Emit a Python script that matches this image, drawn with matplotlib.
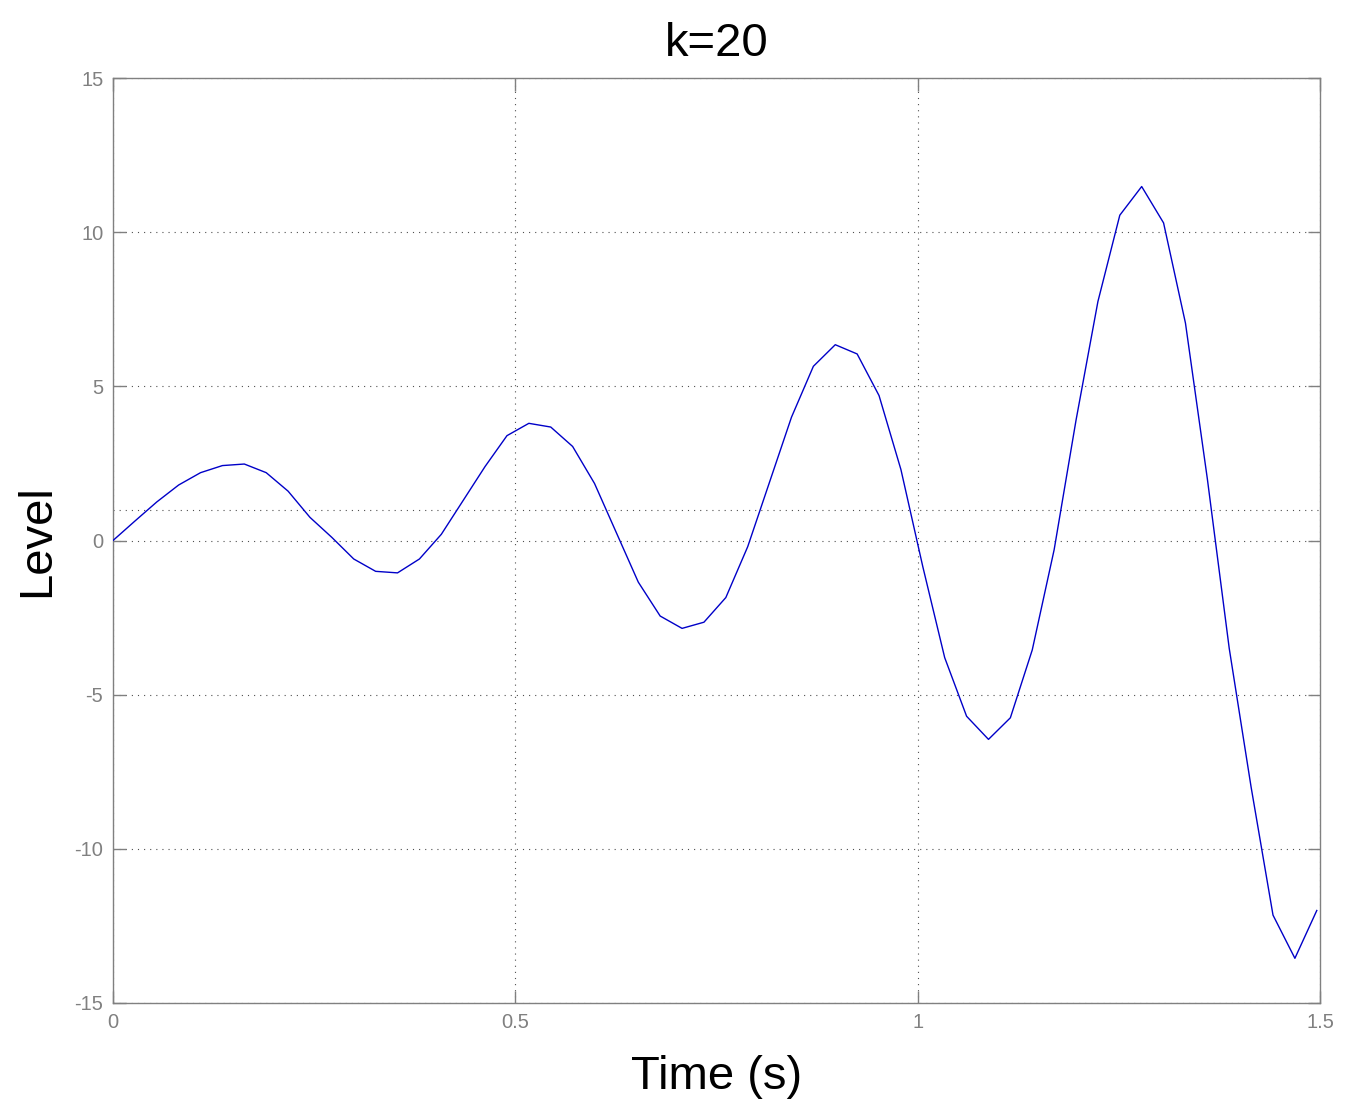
import numpy as np
import matplotlib
matplotlib.use("Agg")
import matplotlib.pyplot as plt

dt = 0.0272
level = [
    0.0, 0.63, 1.25, 1.8, 2.2, 2.43, 2.48, 2.2, 1.6, 0.75,
    0.1, -0.6, -1.0, -1.05, -0.6, 0.2, 1.3, 2.4, 3.4, 3.8,
    3.68, 3.05, 1.85, 0.25, -1.35, -2.45, -2.85, -2.65, -1.85, -0.2,
    1.9, 4.0, 5.65, 6.35, 6.05, 4.7, 2.3, -0.85, -3.8, -5.7,
    -6.45, -5.75, -3.55, -0.3, 3.9, 7.75, 10.55, 11.48, 10.3, 7.05,
    2.0, -3.5, -8.0, -12.15, -13.55, -12.0,
]
time = np.arange(len(level)) * dt
ref_level = 1.0

x_ticks = [0, 0.5, 1, 1.5]
x_ticklabels = ["0", "0.5", "1", "1.5"]
y_ticks = [-15, -10, -5, 0, 5, 10, 15]

plt.rcParams["font.family"] = ["Liberation Sans", "DejaVu Sans"]
plt.rcParams["axes.unicode_minus"] = False

fig = plt.figure(figsize=(13.45, 11.03), dpi=100)
fig.patch.set_facecolor("white")
ax = fig.add_axes([113 / 1345, 100 / 1103, 1207 / 1345, 925 / 1103])

gray = "#808080"
grid_kw = dict(color="#505050", linewidth=0.8, linestyle=(0, (1, 4.5)))

ax.plot(time, level, color="#0000c8", linewidth=1.0, zorder=3)
ax.axhline(ref_level, zorder=2, **grid_kw)

ax.set_xlim(0, 1.5)
ax.set_ylim(-15, 15)
ax.set_xticks(x_ticks)
ax.set_xticklabels(x_ticklabels)
ax.set_yticks(y_ticks)
ax.grid(True, **grid_kw)

for s in ax.spines.values():
    s.set_color(gray)
    s.set_linewidth(1.0)
ax.tick_params(direction="in", length=9, width=1.0, color=gray, labelcolor=gray,
               labelsize=14.5, pad=7, top=True, right=True)

ax.set_title("k=20", fontsize=34, pad=16)
ax.set_xlabel("Time (s)", fontsize=34, labelpad=17)
ax.set_ylabel("Level", fontsize=34, labelpad=11)

fig.savefig("out.png", dpi=100, facecolor="white")
plt.close(fig)
